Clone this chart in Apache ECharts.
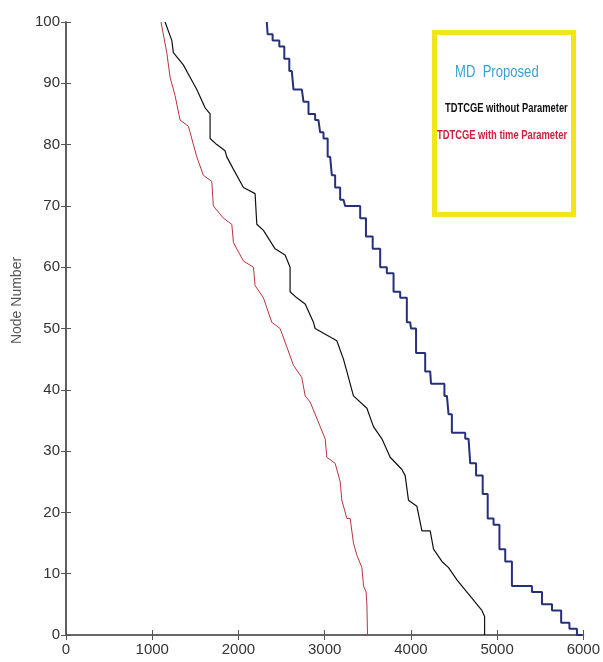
<!DOCTYPE html>
<html>
<head>
<meta charset="utf-8">
<script src="https://cdn.jsdelivr.net/npm/echarts@6/dist/echarts.min.js"></script>
<style>
  html, body { margin: 0; padding: 0; background: #fff; }
  #chart { width: 603px; height: 662px; }
</style>
</head>
<body>
<div id="chart"></div>
<script>
// series names (legend order)
const seriesNames = ['MD  Proposed', 'TDTCGE without Parameter', 'TDTCGE with time Parameter'];

// MD Proposed (blue)
const blueX = [2329, 2348, 2445, 2503, 2561, 2619, 2658, 2735, 2774, 2851, 2928, 2967, 3006, 3064, 3102, 3141, 3218, 3257, 3374, 3450, 3508, 3606, 3682, 3760, 3838, 3914, 3992, 4012, 4108, 4224, 4243, 4360, 4418, 4456, 4495, 4592, 4669, 4708, 4804, 4862, 4920, 4998, 5056, 5133, 5211, 5346, 5462, 5579, 5695, 5791, 5887, 5965, 5985];
const blueY = [100, 98, 97, 96, 94, 92, 89, 89, 87, 85, 84, 82, 81, 78, 75, 73, 71, 70, 70, 68, 65, 63, 60, 59, 56, 55, 51, 50, 46, 43, 41, 41, 39, 36, 33, 33, 32, 28, 26, 23, 19, 18, 14, 12, 8, 8, 7, 5, 4, 2, 1, 0, 0];

// TDTCGE without Parameter (black)
const blackX = [1149, 1227, 1245, 1361, 1439, 1517, 1613, 1671, 1671, 1749, 1845, 1865, 1941, 2058, 2193, 2213, 2290, 2425, 2541, 2599, 2599, 2677, 2774, 2870, 2890, 3141, 3218, 3257, 3334, 3490, 3566, 3664, 3760, 3896, 3934, 3972, 4070, 4128, 4224, 4263, 4360, 4437, 4534, 4650, 4708, 4766, 4824, 4855, 4855];
const blackY = [100, 97, 95, 93, 91, 89, 86, 85, 81, 80, 79, 78, 76, 73, 72, 67, 66, 63, 62, 60, 56, 55, 54, 51, 50, 48, 45, 43, 39, 37, 34, 32, 29, 27, 26, 22, 21, 17, 17, 14, 12, 11, 9, 7, 6, 5, 4, 3, 0];

// TDTCGE with time Parameter (red)
const redX = [1102, 1169, 1207, 1265, 1323, 1419, 1439, 1517, 1593, 1691, 1709, 1825, 1923, 1942, 2058, 2174, 2193, 2290, 2387, 2483, 2561, 2638, 2735, 2774, 2832, 2948, 3006, 3025, 3122, 3180, 3199, 3258, 3296, 3334, 3374, 3432, 3451, 3481, 3490, 3497];
const redY = [100, 95, 91, 88, 84, 83, 82, 78, 75, 74, 70, 68, 67, 64, 61, 60, 57, 55, 51, 50, 47, 44, 42, 39, 38, 34, 32, 29, 28, 25, 22, 19, 19, 15, 13, 11, 8, 7, 5, 0];

const xTicks = [0, 1000, 2000, 3000, 4000, 5000, 6000];
const yTicks = [0, 10, 20, 30, 40, 50, 60, 70, 80, 90, 100];

const lineColors = ['#26307a', '#111111', '#b8343e'];
const legendColors = ['#3aa0d2', '#111111', '#d0203e'];
const lineWidths = [2, 1.2, 1];
const lineSteps = ['middle', false, false]; // blue curve is a visible staircase

const FONT = '"Liberation Sans", Arial, sans-serif';

function zip(xs, ys) {
  return xs.map((x, i) => [x, ys[i]]);
}

const chart = echarts.init(document.getElementById('chart'), null, { renderer: 'canvas' });

const axisLine = { show: true, lineStyle: { color: '#555', width: 1.5 } };
const tick = { show: true, inside: true, length: 5, lineStyle: { color: '#555', width: 1 } };

chart.setOption({
  animation: false,
  backgroundColor: '#fff',
  grid: { left: 66, right: 19, top: 22, bottom: 27 },
  xAxis: [
    {
      type: 'value', min: xTicks[0], max: xTicks[xTicks.length - 1], interval: 1000,
      axisLine: axisLine, axisTick: tick, splitLine: { show: false },
      axisLabel: { color: '#333', fontSize: 15, fontFamily: FONT, margin: 7, formatter: v => String(v) }
    },
    {
      type: 'value', position: 'top', min: xTicks[0], max: xTicks[xTicks.length - 1], interval: 1000,
      axisLine: { show: true, lineStyle: { color: '#666', width: 2 } }, axisTick: tick,
      splitLine: { show: false }, axisLabel: { show: false }
    }
  ],
  yAxis: [
    {
      type: 'value', min: yTicks[0], max: yTicks[yTicks.length - 1], interval: 10,
      name: 'Node Number', nameLocation: 'middle', nameGap: 42, nameRotate: 90,
      nameTextStyle: { color: '#555', fontSize: 14, fontFamily: FONT, padding: [0, 0, 0, 56] },
      axisLine: axisLine, axisTick: tick, splitLine: { show: false },
      axisLabel: { color: '#333', fontSize: 15, fontFamily: FONT, margin: 6 }
    },
    {
      type: 'value', position: 'right', min: yTicks[0], max: yTicks[yTicks.length - 1], interval: 10,
      axisLine: axisLine, axisTick: tick, splitLine: { show: false }, axisLabel: { show: false }
    }
  ],
  series: [
    { name: seriesNames[0], data: zip(blueX, blueY) },
    { name: seriesNames[1], data: zip(blackX, blackY) },
    { name: seriesNames[2], data: zip(redX, redY) }
  ].map((s, i) => ({
    type: 'line',
    name: s.name,
    data: s.data,
    step: lineSteps[i],
    showSymbol: false,
    lineStyle: { color: lineColors[i], width: lineWidths[i] },
    itemStyle: { color: lineColors[i] },
    z: 3 - i
  })),
  // legend box drawn like the original (yellow frame, coloured text only)
  graphic: [
    {
      type: 'rect', left: 432, top: 30, z: 10,
      shape: { width: 139, height: 182 },
      style: { fill: '#fff', stroke: '#f2e51c', lineWidth: 5 }
    },
    {
      type: 'text', x: 455, y: 64, z: 11, scaleX: 0.77,
      style: { text: seriesNames[0], fill: legendColors[0], font: '17px ' + FONT }
    },
    {
      type: 'text', x: 445, y: 103, z: 11, scaleX: 0.78,
      style: { text: seriesNames[1], fill: legendColors[1], font: 'bold 12px ' + FONT }
    },
    {
      type: 'text', x: 437, y: 130, z: 11, scaleX: 0.78,
      style: { text: seriesNames[2], fill: legendColors[2], font: 'bold 12px ' + FONT }
    }
  ]
});
</script>
</body>
</html>
